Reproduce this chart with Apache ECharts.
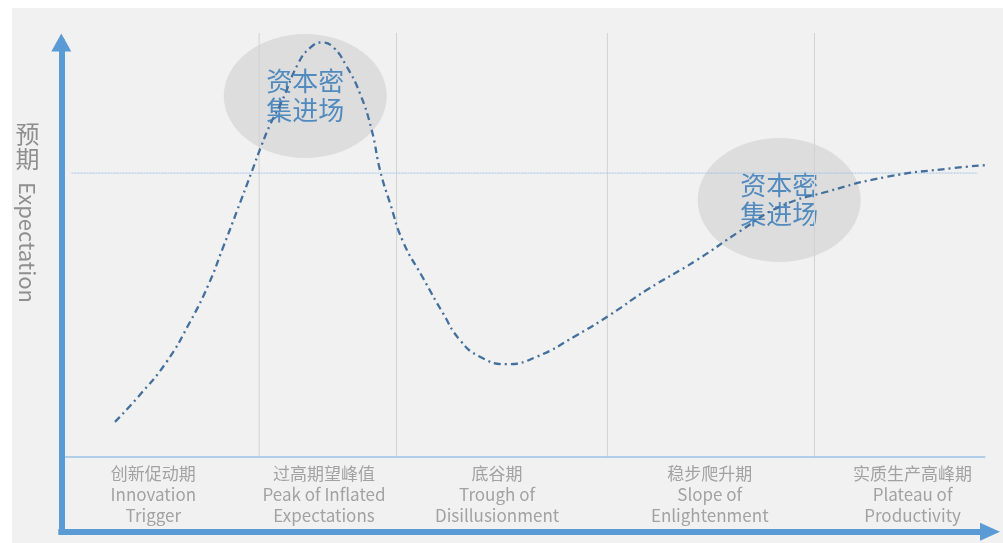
<!DOCTYPE html>
<html>
<head>
<meta charset="utf-8">
<script src="https://cdn.jsdelivr.net/npm/echarts@6/dist/echarts.min.js"></script>
<style>
    html, body { margin: 0; padding: 0; background: #ffffff; }
    #chart { position: absolute; left: 12px; top: 8px; width: 991px; height: 535px; }
</style>
</head>
<body>
<div id="chart"></div>
<script>
// 技术成熟度曲线 (hype cycle) - 数据
var curveX = [5.78, 8.26, 11.35, 13.86, 15.83, 17.44, 18.89, 20.50, 21.58, 22.47, 23.73, 25.52, 26.78, 28.04,
    29.26, 30.73, 32.16, 33.42, 34.32, 35.39, 36.79, 38.95, 41.10, 42.93, 45.08, 47.96, 51.19, 55.50,
    59.08, 63.03, 68.42, 73.08, 77.39, 82.42, 88.88, 96.02, 99.46];
var curveY = [8.5, 14.5, 23.0, 32.6, 41.5, 50.7, 59.2, 68.8, 75.3, 80.1, 85.7, 95.0, 98.7, 100.0,
    98.9, 94.2, 87.7, 78.9, 69.2, 61.3, 52.0, 43.2, 34.7, 28.2, 24.2, 22.4, 24.2, 29.4,
    34.3, 40.3, 47.5, 54.5, 60.4, 64.0, 67.6, 69.7, 70.4];

var stageBounds = [21.3, 36.1, 58.8, 81.1];
var stageCenters = [9.91, 28.29, 46.92, 69.82, 91.66];
var stageZh = ["创新促动期", "过高期望峰值", "底谷期", "稳步爬升期", "实质生产高峰期"];
var stageEn = ["Innovation\nTrigger", "Peak of Inflated\nExpectations", "Trough of\nDisillusionment",
    "Slope of\nEnlightenment", "Plateau of\nProductivity"];
var stageLabelY = -9.1;

var capitalX = [26.27, 77.30];
var capitalY = [87.1, 62.0];
var capitalText = "资本密\n集进场";

var expectLevel = 68.5;
var expectFrom = 1.1, expectTo = 98.7;
var baseFrom = 0.4, baseTo = 99.5;
var sepTop = 102.3;

var font = "'Noto Sans CJK SC', 'Noto Sans', sans-serif";

var myChart = echarts.init(document.getElementById('chart'));

var series = [];

// 资本密集进场 椭圆
series.push({
    name: '资本密集进场',
    type: 'scatter',
    z: 1,
    symbol: 'circle',
    symbolSize: [163, 124],
    itemStyle: {
        color: 'rgba(180,180,180,0.42)'
    },
    label: {
        show: true,
        position: 'inside',
        formatter: capitalText,
        color: '#2e75b6',
        fontSize: 26,
        lineHeight: 29,
        fontFamily: font
    },
    data: capitalX.map(function (x, i) { return [x, capitalY[i]]; })
});

// 阶段分隔线
stageBounds.forEach(function (b) {
    series.push({
        type: 'line',
        z: 2,
        clip: false,
        symbol: 'none',
        silent: true,
        lineStyle: { color: '#d2d2d2', width: 1 },
        data: [[b, 0], [b, sepTop]]
    });
});

// 底线
series.push({
    type: 'line',
    z: 2,
    symbol: 'none',
    silent: true,
    lineStyle: { color: '#9dc3e6', width: 1.5 },
    data: [[baseFrom, 0], [baseTo, 0]]
});

// 预期水平虚线
series.push({
    type: 'line',
    z: 2,
    symbol: 'none',
    silent: true,
    lineStyle: { color: '#9dc3e6', width: 1, type: [2, 1] },
    data: [[expectFrom, expectLevel], [expectTo, expectLevel]]
});

// 曲线
series.push({
    name: '预期',
    type: 'line',
    z: 3,
    clip: false,
    smooth: true,
    symbol: 'none',
    lineStyle: {
        color: '#44709e',
        width: 2.3,
        type: [7, 4, 2, 4]
    },
    data: curveX.map(function (x, i) { return [x, curveY[i]]; })
});

// 阶段文字
series.push({
    type: 'scatter',
    z: 4,
    symbolSize: 0,
    silent: true,
    label: {
        show: true,
        position: 'inside',
        align: 'center',
        verticalAlign: 'middle',
        color: '#8f8f8f',
        fontSize: 17,
        lineHeight: 21,
        fontFamily: font,
        formatter: function (p) {
            return stageZh[p.dataIndex] + '\n' + stageEn[p.dataIndex];
        }
    },
    data: stageCenters.map(function (x) { return [x, stageLabelY]; })
});

var option = {
    backgroundColor: '#f1f1f1',
    animation: false,
    grid: {
        left: 49.3,
        right: 13,
        top: 34.5,
        bottom: 11.3
    },
    xAxis: {
        type: 'value',
        min: 0,
        max: 100,
        axisLine: {
            show: true,
            onZero: false,
            symbol: ['none', 'triangle'],
            symbolSize: [18, 20],
            lineStyle: { color: '#5b9bd5', width: 6, cap: 'square' }
        },
        axisTick: { show: false },
        axisLabel: { show: false },
        splitLine: { show: false }
    },
    yAxis: {
        type: 'value',
        min: -18,
        max: 100,
        axisLine: {
            show: true,
            onZero: false,
            symbol: ['none', 'triangle'],
            symbolSize: [20, 18],
            lineStyle: { color: '#5b9bd5', width: 6, cap: 'square' }
        },
        axisTick: { show: false },
        axisLabel: { show: false },
        splitLine: { show: false }
    },
    graphic: [
        {
            type: 'text',
            x: 15.5,
            y: 113,
            style: {
                text: '预\n期',
                fill: '#8f8f8f',
                font: '24px ' + font,
                lineHeight: 25,
                align: 'center'
            }
        },
        {
            type: 'text',
            x: 15.5,
            y: 234.5,
            rotation: -Math.PI / 2,
            style: {
                text: 'Expectation',
                fill: '#8f8f8f',
                font: '22px ' + font,
                align: 'center',
                verticalAlign: 'middle'
            }
        }
    ],
    series: series
};
myChart.setOption(option, true);
</script>
</body>
</html>
